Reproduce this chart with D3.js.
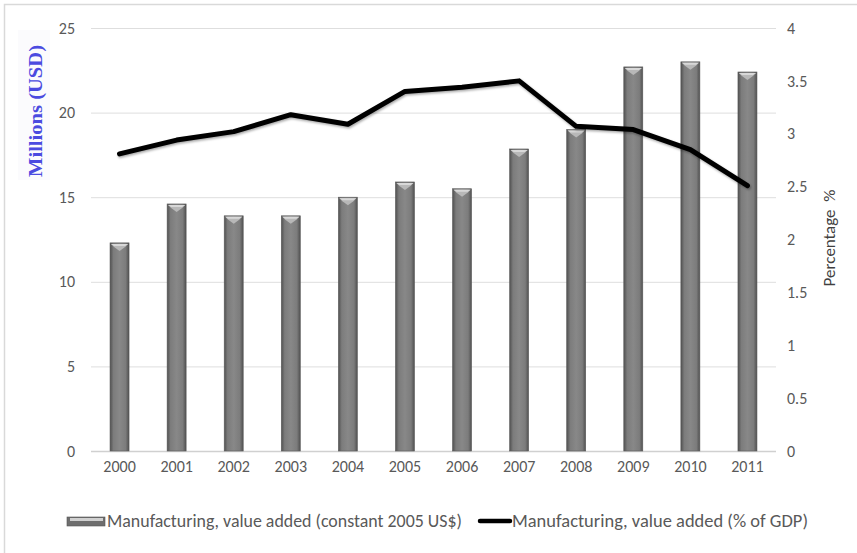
<!DOCTYPE html>
<html>
<head>
<meta charset="utf-8">
<script src="https://cdn.jsdelivr.net/npm/d3@7"></script>
<style>
  body { margin: 0; background: #fff; }
  svg { display: block; }
</style>
</head>
<body>
<svg id="chart" width="857" height="553"></svg>
<script>
const years = ["2000", "2001", "2002", "2003", "2004", "2005", "2006", "2007", "2008", "2009", "2010", "2011"];
const valueAdded = [12.3, 14.6, 13.9, 13.9, 15.0, 15.9, 15.5, 17.85, 19.0, 22.7, 23.0, 22.4];
const pctOfGdp = [2.81, 2.94, 3.02, 3.18, 3.09, 3.40, 3.44, 3.50, 3.07, 3.04, 2.85, 2.51];
const leftTicks = [0, 5, 10, 15, 20, 25];
const rightTicks = [0, 0.5, 1, 1.5, 2, 2.5, 3, 3.5, 4];
const barLabel = "Manufacturing, value added (constant 2005 US$)";
const lineLabel = "Manufacturing, value added (% of GDP)";

const svg = d3.select("#chart");
const font = "Carlito, 'Liberation Sans Narrow', 'Liberation Sans', sans-serif";
const textColor = "#595959";

const plot = { left: 91, right: 776, top: 28, bottom: 451 };

const defs = svg.append("defs");
const grad = defs.append("linearGradient").attr("id", "barGrad")
  .attr("x1", "0%").attr("x2", "100%").attr("y1", "0%").attr("y2", "0%");
grad.append("stop").attr("offset", "0%").attr("stop-color", "#505050");
grad.append("stop").attr("offset", "18%").attr("stop-color", "#7c7c7c");
grad.append("stop").attr("offset", "50%").attr("stop-color", "#888888");
grad.append("stop").attr("offset", "82%").attr("stop-color", "#7c7c7c");
grad.append("stop").attr("offset", "100%").attr("stop-color", "#505050");

const shadow = defs.append("filter").attr("id", "lineShadow")
  .attr("x", "-5%").attr("y", "-20%").attr("width", "110%").attr("height", "140%");
shadow.append("feDropShadow").attr("dx", 1).attr("dy", 1.5).attr("stdDeviation", 1.2)
  .attr("flood-color", "#000").attr("flood-opacity", 0.35);

// outer border (left + top visible)
svg.append("rect")
  .attr("x", 4.5).attr("y", 4.5).attr("width", 900).attr("height", 600)
  .attr("fill", "none").attr("stroke", "#d9d9d9").attr("stroke-width", 1.5);

const x = d3.scaleBand().domain(years).range([plot.left, plot.right]).padding(0);
const yL = d3.scaleLinear().domain([0, 25]).range([plot.bottom, plot.top]);
const yR = d3.scaleLinear().domain([0, 4]).range([plot.bottom, plot.top]);

// gridlines
svg.append("g")
  .selectAll("line")
  .data(leftTicks)
  .join("line")
  .attr("x1", plot.left).attr("x2", plot.right)
  .attr("y1", d => yL(d) + 0.5).attr("y2", d => yL(d) + 0.5)
  .attr("stroke", d => d === 0 ? "#d0d0d0" : "#dedede")
  .attr("stroke-width", d => d === 0 ? 1.5 : 1);

// left axis
const axL = svg.append("g")
  .attr("transform", `translate(${plot.left - 16},0)`)
  .call(d3.axisLeft(yL).tickValues(leftTicks).tickSize(0).tickPadding(0));
axL.select(".domain").remove();
axL.selectAll("text").attr("font-family", font).attr("font-size", 16).attr("fill", textColor);

// right axis
const axR = svg.append("g")
  .attr("transform", `translate(${plot.right + 11},0)`)
  .call(d3.axisRight(yR).tickValues(rightTicks).tickSize(0).tickPadding(0).tickFormat(d3.format("")));
axR.select(".domain").remove();
axR.selectAll("text").attr("font-family", font).attr("font-size", 16).attr("fill", textColor);

// x axis
const axX = svg.append("g")
  .attr("transform", `translate(0,${plot.bottom + 10})`)
  .call(d3.axisBottom(x).tickSize(0).tickPadding(0));
axX.select(".domain").remove();
axX.selectAll("text").attr("font-family", font).attr("font-size", 16).attr("fill", textColor);

// bars
const barW = 19;
const bars = svg.append("g")
  .selectAll("g")
  .data(years.map((yr, i) => ({ yr, v: valueAdded[i] })))
  .join("g")
  .attr("transform", d => `translate(${x(d.yr) + x.bandwidth() / 2 - barW / 2},0)`);

bars.append("rect")
  .attr("x", 0).attr("width", barW)
  .attr("y", d => yL(d.v))
  .attr("height", d => yL(0) - yL(d.v))
  .attr("fill", "url(#barGrad)")
  .attr("stroke", "#5a5a5a").attr("stroke-width", 0.6);

bars.append("path")
  .attr("d", d => {
    const t = yL(d.v);
    return `M1,${t + 1} L${barW - 1},${t + 1} L${barW - 4},${t + 4} L${barW / 2},${t + 8} L4,${t + 4} Z`;
  })
  .attr("fill", "#b8b8b8");

bars.append("path")
  .attr("d", d => {
    const t = yL(d.v);
    return `M1,${t + 1} L${barW - 1},${t + 1} L${barW - 4},${t + 3}  L4,${t + 3} Z`;
  })
  .attr("fill", "#d8d8d8");

// line
const line = d3.line()
  .x((d, i) => x(years[i]) + x.bandwidth() / 2)
  .y(d => yR(d));

svg.append("path")
  .datum(pctOfGdp)
  .attr("d", line)
  .attr("fill", "none")
  .attr("stroke", "#000")
  .attr("stroke-width", 5)
  .attr("stroke-linejoin", "round")
  .attr("stroke-linecap", "round")
  .attr("filter", "url(#lineShadow)");

// left title
svg.append("rect")
  .attr("x", 18).attr("y", 30).attr("width", 32).attr("height", 150)
  .attr("fill", "#fbfbfd");
svg.append("text")
  .attr("transform", "translate(42,111) rotate(-90)")
  .attr("text-anchor", "middle")
  .attr("font-family", "'Liberation Serif', 'DejaVu Serif', serif")
  .attr("font-weight", "bold")
  .attr("font-size", 19)
  .attr("textLength", 132)
  .attr("lengthAdjust", "spacingAndGlyphs")
  .attr("fill", "#4b4be0")
  .text("Millions (USD)");

// right title
svg.append("text")
  .attr("transform", "translate(835,238) rotate(-90)")
  .attr("text-anchor", "middle")
  .attr("font-family", font)
  .attr("font-size", 17)
  .style("white-space", "pre")
  .attr("fill", "#404040")
  .text("Percentage  %");

// legend
const lg = svg.append("g").attr("transform", "translate(0,521)");
lg.append("rect")
  .attr("x", 67).attr("y", -4).attr("width", 38).attr("height", 9)
  .attr("fill", "#6e6e6e").attr("stroke", "#555").attr("stroke-width", 0.6);
lg.append("rect")
  .attr("x", 70).attr("y", -3).attr("width", 33).attr("height", 3)
  .attr("fill", "#d0d0d0");
lg.append("text")
  .attr("x", 107).attr("y", 6)
  .attr("font-family", font).attr("font-size", 18).attr("fill", textColor)
  .attr("textLength", 355).attr("lengthAdjust", "spacingAndGlyphs")
  .text(barLabel);
lg.append("line")
  .attr("x1", 480).attr("x2", 510).attr("y1", 0).attr("y2", 0)
  .attr("stroke", "#000").attr("stroke-width", 4.5).attr("stroke-linecap", "round");
lg.append("text")
  .attr("x", 512).attr("y", 6)
  .attr("font-family", font).attr("font-size", 18).attr("fill", textColor)
  .attr("textLength", 296).attr("lengthAdjust", "spacingAndGlyphs")
  .text(lineLabel);
</script>
</body>
</html>
